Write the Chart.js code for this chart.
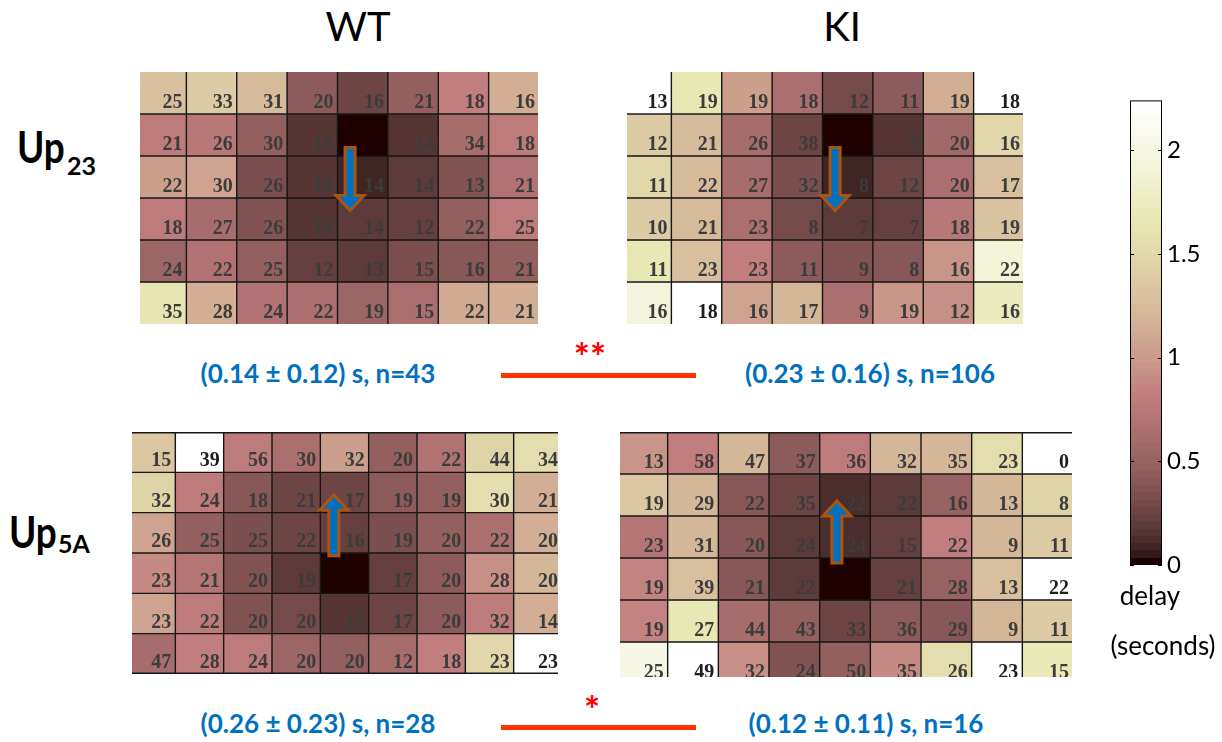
<!DOCTYPE html>
<html lang="en">
<head>
<meta charset="utf-8">
<title>Delay maps Up23 / Up5A</title>
<script src="https://cdn.jsdelivr.net/npm/chart.js@4.4.1/dist/chart.umd.min.js"></script>
<style>
  html, body { margin: 0; padding: 0; background: #fff; }
  #figure { position: relative; width: 1222px; height: 742px; overflow: hidden; font-family: Lato, "Open Sans", sans-serif; color: #000; }
  .clip { position: absolute; overflow: hidden; }
  .clip canvas, #cb { position: absolute; }
  .txt { position: absolute; white-space: nowrap; line-height: 1; }
  .col-title { font-size: 40px; text-align: center; width: 200px; }
  .row-title { font-size: 44px; font-weight: 700; transform: scaleX(0.84); transform-origin: left top; }
  .row-sub { font-size: 25px; font-weight: 700; }
  .stat { font-size: 26px; font-weight: 700; color: #0070c0; text-align: center; width: 400px; }
  .sig-line { position: absolute; height: 5px; background: #ff3300; }
  .sig-star { font-size: 38px; font-weight: 700; color: #ff0000; text-align: center; width: 100px; }
  .cb-label { font-size: 26px; text-align: center; width: 140px; }
</style>
</head>
<body>
<div id="figure">
  <div class="txt col-title" style="left:258px;top:6px">WT</div>
  <div class="txt col-title" style="left:742px;top:6px">KI</div>

  <div class="txt row-title" style="left:17px;top:124px">Up</div>
  <div class="txt row-sub" style="left:67px;top:153px">23</div>
  <div class="txt row-title" style="left:9px;top:509px">Up</div>
  <div class="txt row-sub" style="left:58px;top:531px">5A</div>

  <div class="txt stat" style="left:118px;top:360px">(0.14 ± 0.12) s, n=43</div>
  <div class="txt stat" style="left:670px;top:360px">(0.23 ± 0.16) s, n=106</div>
  <div class="txt stat" style="left:118px;top:710px">(0.26 ± 0.23) s, n=28</div>
  <div class="txt stat" style="left:666px;top:710px">(0.12 ± 0.11) s, n=16</div>

  <div class="sig-line" style="left:501px;top:373px;width:195px"></div>
  <div class="txt sig-star" style="left:540px;top:337px">**</div>
  <div class="sig-line" style="left:501px;top:725px;width:195px"></div>
  <div class="txt sig-star" style="left:542px;top:690px">*</div>

  <canvas id="cb" width="92" height="504" style="left:1128px;top:81px"></canvas>
  <div class="txt cb-label" style="left:1080px;top:582px">delay</div>
  <div class="txt cb-label" style="left:1093px;top:632px">(seconds)</div>
</div>

<script>
// limite superior da escala de cor (s)
const cMax = 2.24;
const colorbarTicks = [0, 0.5, 1, 1.5, 2];

// atraso (s) de cada célula, lido pela cor; contagens escritas nas células
const wtUp23Delay = [
  [1.28, 1.40, 1.23, 0.45, 0.27, 0.46, 0.83, 1.12],
  [0.80, 0.74, 0.48, 0.15, 0.00, 0.15, 0.60, 0.78],
  [1.03, 1.05, 0.35, 0.15, 0.08, 0.20, 0.38, 0.68],
  [0.78, 0.60, 0.36, 0.15, 0.18, 0.24, 0.48, 0.80],
  [0.55, 0.68, 0.48, 0.24, 0.18, 0.32, 0.40, 0.47],
  [1.63, 1.13, 0.70, 0.63, 0.55, 0.63, 1.10, 1.12]
];
const wtUp23Count = [
  [25, 33, 31, 20, 16, 21, 18, 16],
  [21, 26, 30, 18, null, 14, 34, 18],
  [22, 30, 26, 14, 14, 14, 13, 21],
  [18, 27, 26, 14, 14, 12, 22, 25],
  [24, 22, 25, 12, 13, 15, 16, 21],
  [35, 28, 24, 22, 19, 15, 22, 21]
];

const kiUp23Delay = [
  [2.30, 1.65, 1.03, 0.63, 0.30, 0.43, 1.12, 2.30],
  [1.40, 1.25, 0.62, 0.25, 0.00, 0.14, 0.57, 1.50],
  [1.50, 1.25, 0.62, 0.32, 0.10, 0.25, 0.63, 1.28],
  [1.38, 1.25, 0.65, 0.30, 0.20, 0.24, 0.75, 1.32],
  [1.65, 1.28, 0.82, 0.43, 0.38, 0.40, 0.95, 1.90],
  [1.95, 2.30, 1.05, 1.20, 0.63, 0.95, 0.92, 1.75]
];
const kiUp23Count = [
  [13, 19, 19, 18, 12, 11, 19, 18],
  [12, 21, 26, 38, null, 9, 20, 16],
  [11, 22, 27, 32, 8, 12, 20, 17],
  [10, 21, 23, 8, 7, 7, 18, 19],
  [11, 23, 23, 11, 9, 8, 16, 22],
  [16, 18, 16, 17, 9, 19, 12, 16]
];

const wtUp5aDelay = [
  [1.35, 2.30, 0.80, 0.63, 1.03, 0.47, 0.68, 1.45, 1.55],
  [1.45, 0.80, 0.40, 0.25, 0.27, 0.43, 0.48, 1.57, 1.15],
  [1.05, 0.48, 0.35, 0.27, 0.22, 0.32, 0.48, 0.63, 1.15],
  [0.88, 0.72, 0.37, 0.18, 0.00, 0.24, 0.43, 0.92, 1.20],
  [1.05, 0.78, 0.37, 0.30, 0.14, 0.27, 0.45, 0.78, 1.12],
  [0.60, 0.82, 0.78, 0.55, 0.48, 0.60, 0.82, 1.48, 2.30]
];
const wtUp5aCount = [
  [15, 39, 56, 30, 32, 20, 22, 44, 34],
  [32, 24, 18, 21, 17, 19, 19, 30, 21],
  [26, 25, 25, 22, 16, 19, 20, 22, 20],
  [23, 21, 20, 19, null, 17, 20, 28, 20],
  [23, 22, 20, 20, 13, 17, 20, 32, 14],
  [47, 28, 24, 20, 20, 12, 18, 23, 23]
];

const kiUp5aDelay = [
  [0.95, 0.82, 1.20, 0.43, 0.78, 1.20, 1.20, 1.55, 2.30],
  [1.35, 1.20, 0.40, 0.27, 0.11, 0.18, 0.50, 1.20, 1.45],
  [0.72, 1.22, 0.40, 0.20, 0.13, 0.24, 0.82, 1.20, 1.40],
  [0.85, 1.28, 0.40, 0.18, 0.00, 0.24, 0.50, 1.27, 2.30],
  [0.85, 1.65, 0.62, 0.48, 0.27, 0.43, 0.40, 1.20, 1.40],
  [2.00, 2.30, 0.92, 0.37, 0.48, 0.90, 1.55, 2.30, 1.70]
];
const kiUp5aCount = [
  [13, 58, 47, 37, 36, 32, 35, 23, 0],
  [19, 29, 22, 35, 22, 22, 16, 13, 8],
  [23, 31, 20, 24, 24, 15, 22, 9, 11],
  [19, 39, 21, 22, null, 21, 28, 13, 22],
  [19, 27, 44, 43, 33, 36, 29, 9, 11],
  [25, 49, 32, 24, 50, 35, 26, 23, 15]
];

// mapa "pink" do MATLAB, 64 níveis
function pinkColormap(m) {
  const n = Math.floor(3 / 8 * m);
  const out = [];
  for (let i = 0; i < m; i++) {
    const gray = i / (m - 1);
    const r = i < n ? (i + 1) / n : 1;
    const g = i < n ? 0 : (i < 2 * n ? (i - n + 1) / n : 1);
    const b = i < 2 * n ? 0 : (i - 2 * n + 1) / (m - 2 * n);
    const f = h => Math.round(255 * Math.sqrt((2 * gray + h) / 3));
    out.push(`rgb(${f(r)},${f(g)},${f(b)})`);
  }
  return out;
}
const pinkMap = pinkColormap(64);

function corDoAtraso(v) {
  const idx = Math.min(pinkMap.length - 1, Math.max(0, Math.floor(v / cMax * pinkMap.length)));
  return pinkMap[idx];
}

const figure = document.getElementById('figure');

const panels = [
  { delay: wtUp23Delay, count: wtUp23Count, grid: [136, 72, 403, 252], clip: [140, 72, 398, 252], edges: false, arrow: { col: 4.25, from: 1.8, to: 3.3 } },
  { delay: kiUp23Delay, count: kiUp23Count, grid: [621, 72, 403, 252], clip: [627, 72, 396, 252], edges: false, arrow: { col: 4.25, from: 1.8, to: 3.3 } },
  { delay: wtUp5aDelay, count: wtUp5aCount, grid: [127, 432, 435, 242], clip: [132, 432, 426, 243], edges: true, arrow: { col: 4.28, from: 3.07, to: 1.56 } },
  { delay: kiUp5aDelay, count: kiUp5aCount, grid: [617, 432, 456, 252], clip: [620, 432, 452, 245], edges: true, arrow: { col: 4.34, from: 3.12, to: 1.64 } }
];

function desenharCelulas(panel) {
  return {
    id: 'celulas',
    afterDatasetsDraw(chart) {
      const { ctx, scales: { x, y } } = chart;
      const rows = panel.count.length;
      const cols = panel.count[0].length;
      const step = x.getPixelForValue(1) - x.getPixelForValue(0);
      const left = x.getPixelForValue(0) - step / 2;
      const right = left + step * cols;
      const top = y.getPixelForValue(0);
      const bottom = y.getPixelForValue(rows);

      ctx.save();
      ctx.strokeStyle = '#161616';
      ctx.lineWidth = 1.4;
      ctx.beginPath();
      for (let c = 1; c < cols; c++) {
        const px = left + step * c;
        ctx.moveTo(px, top);
        ctx.lineTo(px, bottom);
      }
      const r0 = panel.edges ? 0 : 1;
      const r1 = panel.edges ? rows : rows - 1;
      for (let r = r0; r <= r1; r++) {
        let py = y.getPixelForValue(r);
        if (r === 0) py += 0.7;
        if (r === rows) py -= 0.7;
        ctx.moveTo(left, py);
        ctx.lineTo(right, py);
      }
      ctx.stroke();

      ctx.font = 'bold 20px "Liberation Serif"';
      ctx.textAlign = 'right';
      ctx.textBaseline = 'alphabetic';
      panel.count.forEach((row, r) => {
        row.forEach((n, c) => {
          if (n === null) return;
          ctx.fillStyle = panel.delay[r][c] >= cMax ? '#1e1e1e' : '#3c3c3c';
          ctx.fillText(String(n), left + step * (c + 1) - 4, y.getPixelForValue(r + 1) - 6);
        });
      });

      // seta de propagação
      const a = panel.arrow;
      const ax = left + step * a.col;
      const yTail = y.getPixelForValue(a.from);
      const yTip = y.getPixelForValue(a.to);
      const dir = Math.sign(yTip - yTail);
      const sw = 5, hw = 14, hl = 15;
      const yNeck = yTip - dir * hl;
      ctx.beginPath();
      ctx.moveTo(ax - sw, yTail);
      ctx.lineTo(ax + sw, yTail);
      ctx.lineTo(ax + sw, yNeck);
      ctx.lineTo(ax + hw, yNeck);
      ctx.lineTo(ax, yTip);
      ctx.lineTo(ax - hw, yNeck);
      ctx.lineTo(ax - sw, yNeck);
      ctx.closePath();
      ctx.fillStyle = '#0070c0';
      ctx.fill();
      ctx.lineWidth = 3;
      ctx.strokeStyle = '#a8550f';
      ctx.stroke();
      ctx.restore();
    }
  };
}

function criarMapa(panel) {
  const wrap = document.createElement('div');
  wrap.className = 'clip';
  wrap.style.left = panel.clip[0] + 'px';
  wrap.style.top = panel.clip[1] + 'px';
  wrap.style.width = panel.clip[2] + 'px';
  wrap.style.height = panel.clip[3] + 'px';
  const canvas = document.createElement('canvas');
  canvas.width = panel.grid[2];
  canvas.height = panel.grid[3];
  canvas.style.left = (panel.grid[0] - panel.clip[0]) + 'px';
  canvas.style.top = (panel.grid[1] - panel.clip[1]) + 'px';
  wrap.appendChild(canvas);
  figure.appendChild(wrap);

  const rows = panel.delay.length;
  new Chart(canvas, {
    type: 'bar',
    data: {
      labels: panel.delay[0].map((_, c) => 'c' + (c + 1)),
      datasets: panel.delay.map((row, r) => ({
        data: row.map(() => [r, r + 1]),
        backgroundColor: row.map(corDoAtraso),
        borderWidth: 0,
        barPercentage: 1,
        categoryPercentage: 1,
        grouped: false
      }))
    },
    options: {
      responsive: false,
      animation: false,
      devicePixelRatio: 1,
      events: [],
      plugins: { legend: { display: false }, tooltip: { enabled: false } },
      scales: {
        x: { display: false },
        y: { display: false, min: 0, max: rows, reverse: true }
      }
    },
    plugins: [desenharCelulas(panel)]
  });
}

panels.forEach(criarMapa);

// barra de cores
function preenchimentoBarra(context) {
  const { ctx, chartArea, scales } = context.chart;
  if (!chartArea) return null;
  const y0 = scales.y.getPixelForValue(0);
  const y1 = scales.y.getPixelForValue(cMax);
  const g = ctx.createLinearGradient(0, y0, 0, y1);
  pinkMap.forEach((c, i) => {
    g.addColorStop(i / pinkMap.length, c);
    g.addColorStop((i + 1) / pinkMap.length, c);
  });
  return g;
}

const bordaBarra = {
  id: 'bordaBarra',
  afterDatasetsDraw(chart) {
    const { ctx, chartArea, scales: { y } } = chart;
    ctx.save();
    ctx.strokeStyle = '#000';
    ctx.lineWidth = 1;
    ctx.strokeRect(chartArea.left + 0.5, chartArea.top + 0.5, chartArea.width - 1, chartArea.height - 1);
    ctx.beginPath();
    colorbarTicks.forEach(v => {
      const py = Math.round(y.getPixelForValue(v)) + 0.5;
      ctx.moveTo(chartArea.left, py);
      ctx.lineTo(chartArea.left + 4, py);
      ctx.moveTo(chartArea.right, py);
      ctx.lineTo(chartArea.right - 4, py);
    });
    ctx.stroke();
    ctx.restore();
  }
};

new Chart(document.getElementById('cb'), {
  type: 'bar',
  data: {
    labels: [''],
    datasets: [{
      data: [[0, cMax]],
      backgroundColor: preenchimentoBarra,
      borderWidth: 0,
      barPercentage: 1,
      categoryPercentage: 1
    }]
  },
  options: {
    responsive: false,
    animation: false,
    devicePixelRatio: 1,
    events: [],
    layout: { padding: { left: 2, top: 14, bottom: 20, right: 0 } },
    plugins: { legend: { display: false }, tooltip: { enabled: false } },
    scales: {
      x: { display: false },
      y: {
        position: 'right',
        min: 0,
        max: cMax,
        afterBuildTicks: scale => { scale.ticks = colorbarTicks.map(v => ({ value: v })); },
        afterFit: scale => { scale.width = 58; },
        grid: { display: false, drawTicks: false },
        border: { display: false },
        ticks: { color: '#000', padding: 5, font: { family: 'Lato', size: 24 }, callback: v => String(v) }
      }
    }
  },
  plugins: [bordaBarra]
});
</script>
</body>
</html>
